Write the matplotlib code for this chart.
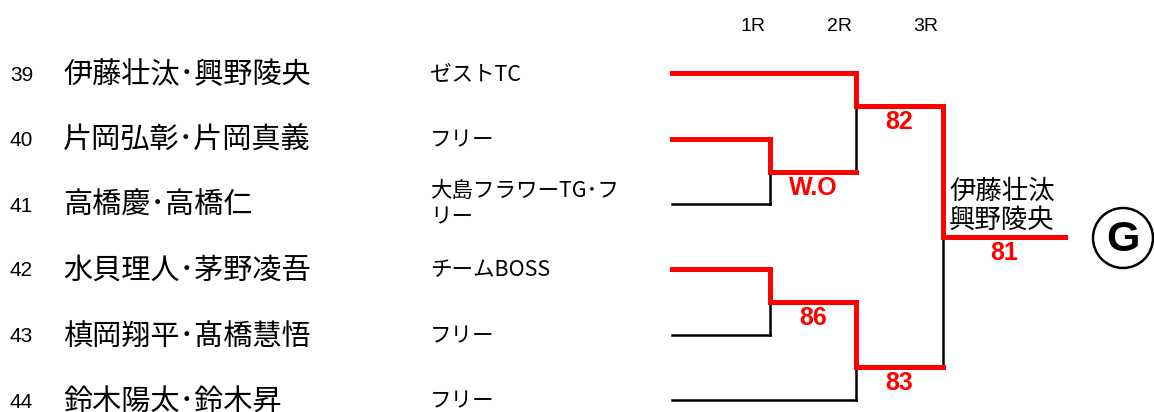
import matplotlib
matplotlib.use('Agg')
import matplotlib.pyplot as plt
from matplotlib.patches import Circle

# --- data ---------------------------------------------------------------------
entry_no = [39, 40, 41, 42, 43, 44]
players = ['伊藤壮汰･興野陵央', '片岡弘彰･片岡真義', '高橋慶･高橋仁',
           '水貝理人･茅野凌吾', '槙岡翔平･髙橋慧悟', '鈴木陽太･鈴木昇']
teams = ['ゼストTC', 'フリー', '大島フラワーTG･フ\nリー', 'チームBOSS',
         'フリー', 'フリー']
round_labels = ['1R', '2R', '3R']
# matches: (top input, bottom input, round index, winner side, score)
# inputs are 'e<i>' for entries or 'm<i>' for earlier matches
matches = [
    ('e1', 'e2', 0, 'top', 'W.O'),
    ('e3', 'e4', 0, 'top', '86'),
    ('e0', 'm0', 1, 'top', '82'),
    ('m1', 'e5', 1, 'top', '83'),
    ('m2', 'm3', 2, 'top', '81'),
]
champion = '伊藤壮汰\n興野陵央'

# --- layout (pixel coords) -----------------------------------------------------
W, H = 1154, 412
row_y = [73, 139, 204, 269, 335, 400]
line_x0 = 672
join_x = [770, 856, 943]
final_x = 1065
RED, BLACK = '#ff0000', '#000000'
lw_red, lw_blk = 3.6, 1.8
jp = ['Noto Sans CJK JP', 'DejaVu Sans']
lat = ['Liberation Sans', 'Noto Sans CJK JP']

fig = plt.figure(figsize=(W / 100, H / 100), dpi=100)
ax = fig.add_axes([0, 0, 1, 1])
ax.set_xlim(0, W)
ax.set_ylim(H, 0)
ax.axis('off')

# left columns
for i, (n, p, t) in enumerate(zip(entry_no, players, teams)):
    y = row_y[i]
    ax.text(10, y + 2, str(n), fontsize=15, family=lat, va='center')
    ax.text(63, y + 2, p, fontsize=21, family=jp, va='center')
    if '\n' in t:
        ax.text(430, y, t, fontsize=15.5, family=jp, va='center',
                linespacing=1.25)
    else:
        ax.text(430, y + 1, t, fontsize=15.5, family=jp, va='center')

for k, lab in enumerate(round_labels):
    ax.text(join_x[k] - 17, 26, lab, fontsize=14, family=lat,
            ha='center', va='center')


def seg(xs, ys, color):
    lw = lw_red if color == RED else lw_blk
    ax.plot(xs, ys, color=color, lw=lw, solid_capstyle='projecting',
            zorder=3 if color == RED else 2)


# bracket
node = {}
for i, y in enumerate(row_y):
    node['e%d' % i] = (line_x0, y)

first_won = set()
for top, bot, r, win, sc in matches:
    first_won.add(top if win == 'top' else bot)

for j, (top, bot, r, win, sc) in enumerate(matches):
    xj = join_x[r]
    (xt, yt), (xb, yb) = node[top], node[bot]
    for name in (top, bot):
        if name.startswith('e'):
            xs, ys = node[name]
            seg([xs, xj], [ys, ys], RED if name in first_won else BLACK)
    if r == 0:
        yo = (yt + yb) / 2
    elif r == 1 and top.startswith('e'):
        yo = yt + (yb - yt) / 3
    elif r == 1:
        yo = yt + (yb - yt) * 2 / 3
    else:
        yo = (yt + yb) / 2
    yw = yt if win == 'top' else yb
    yl = yb if win == 'top' else yt
    seg([xj, xj], [yw, yo], RED)
    seg([xj, xj], [yo, yl], BLACK)
    x_end = join_x[r + 1] if r + 1 < len(join_x) else final_x
    seg([xj, x_end], [yo, yo], RED)
    ax.text((xj + x_end) / 2, yo + 16, sc, color=RED, fontsize=18,
            weight='bold', family=lat, ha='center', va='center')
    node['m%d' % j] = (xj, yo)

# champion
ax.text(949, 206, champion, fontsize=19, family=jp, va='center',
        linespacing=1.12)
ax.add_patch(Circle((1123, 238), 30, fill=False, lw=1.8, ec=BLACK))
ax.text(1123, 240, 'G', fontsize=31, weight='bold', family=lat,
        ha='center', va='center')

fig.savefig('out.png', dpi=100)
